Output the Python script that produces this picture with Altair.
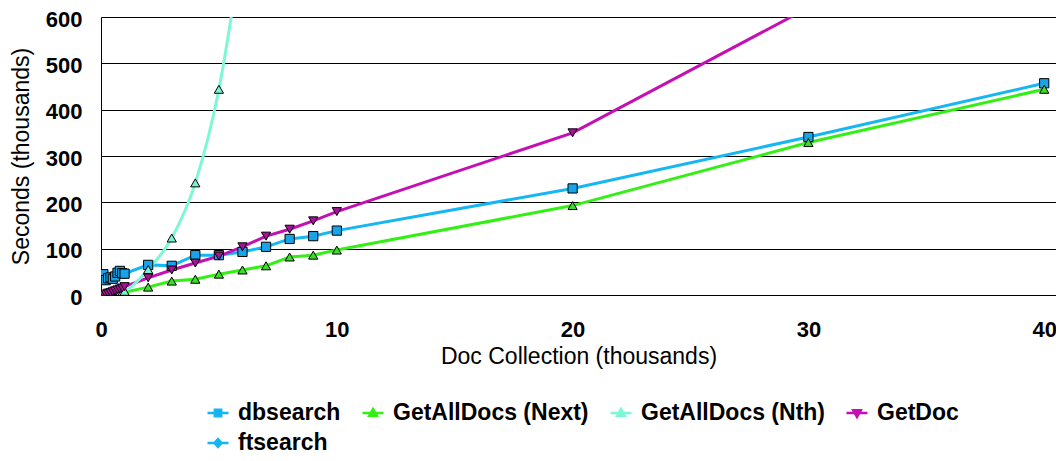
import altair as alt
import pandas as pd

# ---- data ----
series_names = ["dbsearch", "GetAllDocs (Next)", "GetAllDocs (Nth)", "GetDoc", "ftsearch"]
line_colors = ["#14B6F4", "#33F014", "#7DF8D6", "#C40FB4", "#14B6F4"]
marker_fills = ["#1AA3E8", "#3CDC28", "#7AF2D4", "#A6129A", "#1A95DF"]
marker_shapes = ["square", "triangle-up", "triangle-up", "triangle-down", "diamond"]

# legend symbols: a short line with the series marker on it (unit coordinates)
legend_symbols = [
    "M-1,0H1M-0.3,-0.3H0.3V0.3H-0.3Z",
    "M-1,0H1M0,-0.38L0.36,0.26L-0.36,0.26Z",
    "M-1,0H1M0,-0.38L0.36,0.26L-0.36,0.26Z",
    "M-1,0H1M0,0.38L0.36,-0.26L-0.36,-0.26Z",
    "M-1,0H1M0,-0.38L0.34,0L0,0.38L-0.34,0Z",
]

x_small = [0.1, 0.2, 0.3, 0.4, 0.5, 0.6, 0.7, 0.8, 0.9, 1.0]
x_large = [2, 3, 4, 5, 6, 7, 8, 9, 10, 20, 30, 40]
x_nth = [2, 3, 4, 5, 6]

dbsearch_small = [45, 32, 36, 38, 35, 40, 48, 52, 47, 46]
dbsearch_large = [65, 63, 86, 86, 93, 104, 121, 127, 139, 230, 341, 457]

next_small = [1, 1, 2, 2, 3, 3, 4, 5, 5, 6]
next_large = [17, 30, 34, 45, 54, 63, 82, 86, 97, 193, 329, 444]

nth_small = [0.2, 0.5, 1, 1.5, 2, 3, 4, 5, 6, 8]
nth_large = [55, 123, 242, 444, 760]

getdoc_small = [1, 2, 4, 5, 7, 9, 11, 13, 15, 18]
getdoc_large = [37, 54, 69, 84, 104, 127, 142, 160, 180, 350, 620, 900]

ftsearch_small = [45, 32, 36, 38, 35, 40, 48, 52, 47, 46]

x_ticks = [0, 10, 20, 30, 40]
y_ticks = [0, 100, 200, 300, 400, 500, 600]

series_data = {
    "ftsearch": (x_small, ftsearch_small),
    "dbsearch": (x_small + x_large, dbsearch_small + dbsearch_large),
    "GetAllDocs (Next)": (x_small + x_large, next_small + next_large),
    "GetAllDocs (Nth)": (x_small + x_nth, nth_small + nth_large),
    "GetDoc": (x_small + x_large, getdoc_small + getdoc_large),
}

rows = []
for name, (xs, ys) in series_data.items():
    for xv, yv in zip(xs, ys):
        rows.append({"series": name, "x": xv, "y": yv})
df = pd.DataFrame(rows)

FONT = "Liberation Sans"

x_enc = alt.X(
    "x:Q",
    scale=alt.Scale(domain=[0, 40.5], nice=False, zero=False),
    axis=alt.Axis(
        values=x_ticks, title="Doc Collection (thousands)", grid=False,
        ticks=False, tickSize=0, labelFontSize=22, labelFontWeight="bold",
        labelFont=FONT, labelColor="black", labelPadding=41,
        labelBaseline="alphabetic", labelFlush=False,
        domainColor="black", domainWidth=1,
        titleFont=FONT, titleFontSize=23, titleFontWeight="normal",
        titleColor="black", titleBaseline="alphabetic", titleY=68,
    ),
)
y_enc = alt.Y(
    "y:Q",
    scale=alt.Scale(domain=[0, 600], nice=False),
    axis=alt.Axis(
        values=y_ticks, title="Seconds (thousands)", grid=True,
        gridColor="black", gridWidth=1, ticks=False, tickSize=0,
        labelFontSize=22, labelFontWeight="bold", labelFont=FONT,
        labelColor="black", labelPadding=19, labelBaseline="alphabetic",
        labelOffset=9, labelFlush=False, domainColor="black",
        domainWidth=1, titleFont=FONT, titleFontSize=23,
        titleFontWeight="normal", titleColor="black",
        titleBaseline="alphabetic", titleX=-73,
    ),
)

color_enc = alt.Color(
    "series:N",
    scale=alt.Scale(domain=series_names, range=line_colors),
    legend=None,
)

lines = alt.Chart(df).transform_filter(
    alt.datum.series != "GetAllDocs (Nth)"
).mark_line(strokeWidth=3, clip=True).encode(
    x=x_enc, y=y_enc, color=color_enc, order=alt.Order("x:Q")
)

nth_line = alt.Chart(df).transform_filter(
    alt.datum.series == "GetAllDocs (Nth)"
).mark_line(strokeWidth=3, clip=True, interpolate="monotone").encode(
    x=x_enc, y=y_enc, color=color_enc, order=alt.Order("x:Q")
)

points = alt.Chart(df).mark_point(
    filled=True, size=85, stroke="black", strokeWidth=1, opacity=1, clip=True
).encode(
    x=x_enc, y=y_enc,
    fill=alt.Fill("series:N", scale=alt.Scale(domain=series_names, range=marker_fills),
                  legend=None),
    shape=alt.Shape("series:N", scale=alt.Scale(domain=series_names, range=marker_shapes),
                    legend=None),
)

# legend-only layer (no data rows drawn): line + marker symbol per series
legend_def = alt.Legend(
    orient="none", legendX=105, legendY=384, direction="horizontal",
    columns=4, title=None, labelFont=FONT, labelFontSize=23,
    labelFontWeight="bold", labelColor="black", labelOffset=8,
    labelLimit=400, columnPadding=16, rowPadding=6, padding=0,
    symbolSize=441, symbolStrokeWidth=2.5, symbolOpacity=1,
)

legend_layer = alt.Chart(df).transform_filter(
    alt.datum.x < -100
).mark_point(filled=True, opacity=1, strokeWidth=2.5).encode(
    x=x_enc, y=y_enc,
    stroke=alt.Stroke("series:N", scale=alt.Scale(domain=series_names, range=line_colors),
                      legend=legend_def),
    fill=alt.Fill("series:N", scale=alt.Scale(domain=series_names, range=marker_fills),
                  legend=legend_def),
    shape=alt.Shape("series:N", scale=alt.Scale(domain=series_names, range=legend_symbols),
                    legend=legend_def),
)

chart = alt.layer(lines, nth_line, points, legend_layer).resolve_scale(
    fill="independent", shape="independent", stroke="independent"
).properties(
    width=955, height=278,
    autosize=alt.AutoSizeParams(type="none"),
    padding={"left": 93, "top": 9, "right": 0, "bottom": 161},
    background="white",
).configure_view(strokeWidth=0)

chart.save("out.html", embed_options={"renderer": "svg", "actions": False})
